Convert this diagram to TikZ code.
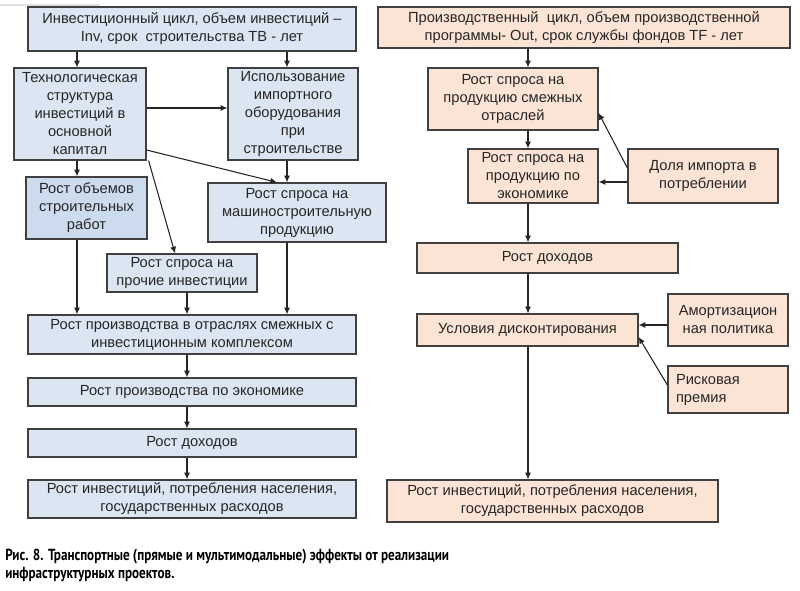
\documentclass[tikz,border=0pt]{standalone}
\usepackage{fontspec}
\setmainfont{Liberation Sans}
\newfontfamily\capfont[FakeStretch=0.82]{PT Sans}
\usetikzlibrary{arrows.meta,calc}
\definecolor{bluefill}{HTML}{DCE6F2}
\definecolor{bluefilldk}{HTML}{CCDCEE}
\definecolor{peachfill}{HTML}{FBE4D5}
\definecolor{boxline}{HTML}{404040}
\definecolor{txtcol}{HTML}{262626}
\tikzset{
  bx/.style={draw=boxline, line width=0.9pt, align=center, inner sep=1pt,
    font=\fontsize{11}{13.5}\selectfont, text=txtcol},
  bl/.style={bx, fill=bluefill},
  pc/.style={bx, fill=peachfill},
  wh/.style 2 args={minimum width=#1*0.75pt, minimum height=#2*0.75pt},
  arr/.style={-{Latex[length=5pt,width=4.5pt]}, line width=0.8pt, draw=black!85},
}
\begin{document}
\begin{tikzpicture}[x=0.75pt,y=-0.75pt]
\useasboundingbox (0,0) rectangle (800,590);
\fill[white] (0,0) rectangle (800,590);
\draw[black!12, line width=1pt] (0,5) -- (100,5);
% left column
\node[bl, wh={328}{44}] (inv) at (192,29) {Инвестиционный цикл, объем инвестиций --\\Inv, срок\ \ строительства ТВ - лет};
\node[bl, wh={132}{92}] (tech) at (80,114) {Технологическая\\структура\\инвестиций в\\основной\\капитал};
\node[bl, wh={130}{92}] (imp) at (293,114) {Использование\\импортного\\оборудования\\при\\строительстве};
\node[bx, fill=bluefilldk, wh={121}{62}] (obj) at (86.5,208) {Рост объемов\\строительных\\работ};
\node[bl, wh={178}{59}] (mash) at (297,212.5) {Рост спроса на\\машиностроительную\\продукцию};
\node[bl, wh={150}{38}] (proch) at (182,273) {Рост спроса на\\прочие инвестиции};
\node[bl, wh={328}{39}] (rpo) at (192,334.5) {Рост производства в отраслях смежных с\\инвестиционным комплексом};
\node[bl, wh={328}{28}] (rpe) at (192,392) {Рост производства по экономике};
\node[bl, wh={328}{28}] (rd) at (192,443) {Рост доходов};
\node[bl, wh={328}{38}] (ri) at (192,499) {Рост инвестиций, потребления населения,\\государственных расходов};
% right column
\node[pc, wh={412}{41}] (pcy) at (584,27.5) {Производственный\ \ цикл, объем производственной\\программы- Out, срок службы фондов TF - лет};
\node[pc, wh={170}{62}] (sm) at (513,99) {Рост спроса на\\продукцию смежных\\отраслей};
\node[pc, wh={130}{54}] (ec) at (533,176) {Рост спроса на\\продукцию по\\экономике};
\node[pc, wh={150}{54}] (dol) at (703,176) {Доля импорта в\\потреблении};
\node[pc, wh={261}{30}] (rd2) at (547.5,258) {Рост доходов};
\node[pc, wh={221}{32}] (ud) at (527.5,330) {Условия дисконтирования};
\node[pc, wh={120}{52}] (am) at (728,320) {Амортизацион\\ная политика};
\node[pc, wh={120}{47}, align=left, text width=104*0.75pt] (rp) at (728,389.5) {Рисковая\\премия};
\node[pc, wh={331}{42}] (ri2) at (552.5,501) {Рост инвестиций, потребления населения,\\государственных расходов};
% left arrows
\draw[arr] (inv.south -| 77,0) -- (tech.north -| 77,0);
\draw[arr] (inv.south -| 287,0) -- (imp.north -| 287,0);
\draw[arr] (tech.east |- 0,108) -- (imp.west |- 0,108);
\draw[arr] (tech.south east |- 0,150) -- (mash.north -| 277,0);
\draw[arr] ($(tech.south east)+(2,0)$) -- (proch.north -| 175,0);
\draw[arr] (tech.south -| 77,0) -- (obj.north -| 77,0);
\draw[arr] (imp.south -| 287,0) -- (mash.north -| 287,0);
\draw[arr] (obj.south -| 77,0) -- (rpo.north -| 77,0);
\draw[arr] (proch.south -| 187,0) -- (rpo.north -| 187,0);
\draw[arr] (mash.south -| 287,0) -- (rpo.north -| 287,0);
\draw[arr] (rpo.south -| 187,0) -- (rpe.north -| 187,0);
\draw[arr] (rpe.south -| 187,0) -- (rd.north -| 187,0);
\draw[arr] (rd.south -| 187,0) -- (ri.north -| 187,0);
% right arrows
\draw[arr] (pcy.south -| 528,0) -- (sm.north -| 528,0);
\draw[arr] (sm.south -| 528,0) -- (ec.north -| 528,0);
\draw[arr] (ec.south -| 528,0) -- (rd2.north -| 528,0);
\draw[arr] (rd2.south -| 528,0) -- (ud.north -| 528,0);
\draw[arr] (ud.south -| 528,0) -- (ri2.north -| 528,0);
\draw[arr] (dol.west |- 0,168) -- (sm.east |- 0,113);
\draw[arr] (dol.west |- 0,182) -- (ec.east |- 0,182);
\draw[arr] (am.west |- 0,325) -- (ud.east |- 0,325);
\draw[arr] (rp.west |- 0,385) -- (ud.east |- 0,337);
% caption
\node[anchor=north west, align=left, inner sep=0pt, font=\capfont\bfseries\fontsize{12}{13.5}\selectfont] (cap) at (5,549)
  {Рис. 8. Транспортные (прямые и мультимодальные) эффекты от реализации\\инфраструктурных проектов.};
\end{tikzpicture}
\end{document}
